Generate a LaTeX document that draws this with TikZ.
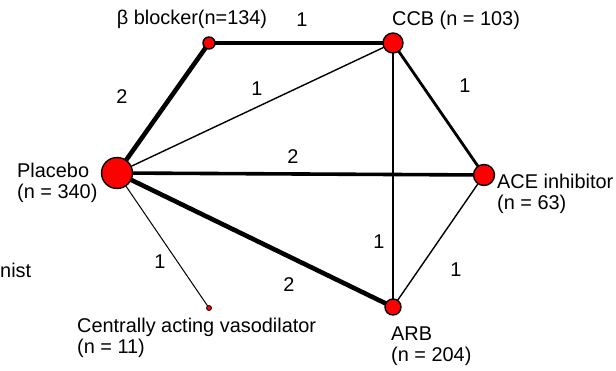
\documentclass[tikz,border=0pt]{standalone}
\usepackage{fontspec}
\setmainfont{Liberation Sans}
\usetikzlibrary{backgrounds}
\begin{document}
\begin{tikzpicture}[x=1pt,y=-1pt,
  trt/.style={circle,draw=black,fill=red,line width=1.4pt,inner sep=0pt},
  lbl/.style={font=\fontsize{19.9}{21.5}\selectfont,inner sep=0pt,align=left},
  num/.style={font=\fontsize{19.9}{21.5}\selectfont,inner sep=0pt},
  wthick/.style={line width=4.6pt},
  wmidthick/.style={line width=3.6pt},
  wmid/.style={line width=2.8pt},
  wthin/.style={line width=1.4pt},
  wthinner/.style={line width=1pt}]
\useasboundingbox (0,0) rectangle (616,371);
% treatment nodes
\node[trt,minimum size=31pt] (pla) at (117,173) {};
\node[trt,minimum size=12pt] (bb) at (209,43) {};
\node[trt,minimum size=20pt] (ccb) at (393,43) {};
\node[trt,minimum size=21pt] (ace) at (484,175) {};
\node[trt,minimum size=16pt] (arb) at (393,307) {};
\node[circle,draw=black,fill=red,line width=0.8pt,inner sep=0pt,minimum size=5pt] (cav) at (209,308) {};
% connectors
\begin{pgfonlayer}{background}
\draw[wthick] (pla.center) -- (bb.center);
\draw[wthick] (bb.center) -- (ccb.center);
\draw[wthin] (pla.center) -- (ccb.center);
\draw[wmid] (ccb.center) -- (ace.center);
\draw[wmidthick] (pla.center) -- (ace.center);
\draw[wthin] (ccb.center) -- (arb.center);
\draw[wthin] (ace.center) -- (arb.center);
\draw[wthick] (pla.center) -- (arb.center);
\draw[wthinner] (pla.center) -- (cav.center);
\end{pgfonlayer}
% edge labels
\node[num] (l1) at (122,97) {2};
\node[num] (l2) at (302,20) {1};
\node[num] (l3) at (257,89) {1};
\node[num] (l4) at (465,86) {1};
\node[num] (l5) at (293,157) {2};
\node[num] (l6) at (379,242) {1};
\node[num] (l7) at (456,270) {1};
\node[num] (l8) at (289,285) {2};
\node[num] (l9) at (160,262) {1};
% treatment labels
\node[lbl,anchor=center] (tbb) at (192,19) {β blocker(n=134)};
\node[lbl,anchor=west] (tccb) at (392,20) {CCB (n = 103)};
\node[lbl,anchor=west] (tace) at (497,194) {ACE inhibitor\\(n = 63)};
\node[lbl,anchor=west] (tarb) at (391,346) {ARB\\(n = 204)};
\node[lbl,anchor=west] (tpla) at (17,183) {Placebo\\(n = 340)};
\node[lbl,anchor=west] (tcav) at (77,338) {Centrally acting vasodilator\\(n = 11)};
\node[lbl,anchor=west] (tnist) at (0,270) {nist};
\end{tikzpicture}
\end{document}
